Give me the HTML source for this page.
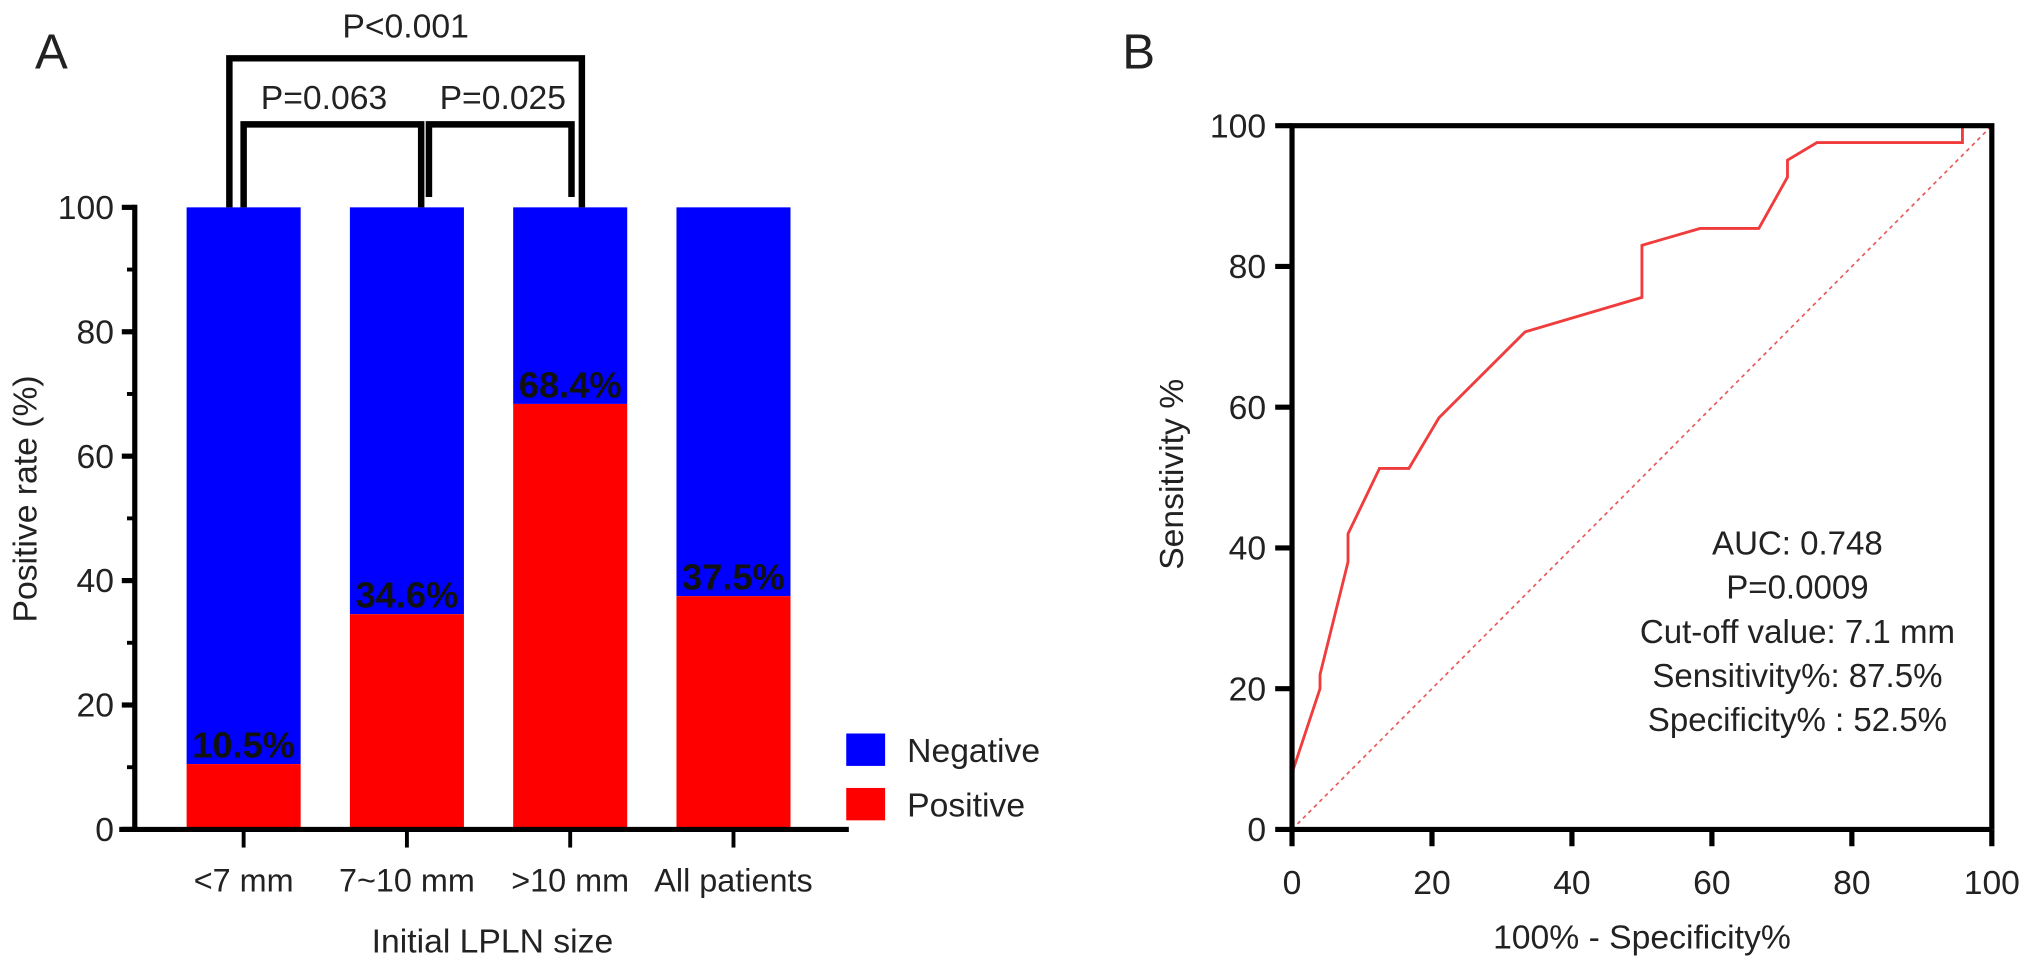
<!DOCTYPE html>
<html><head><meta charset="utf-8"><style>
body{margin:0;background:#fff;}
svg text{font-family:"Liberation Sans",Arial,sans-serif;fill:#222;}
</style></head><body>
<svg width="2032" height="966" viewBox="0 0 1568 745.4" preserveAspectRatio="none" xmlns="http://www.w3.org/2000/svg">
<g id="panelA"></g>
<g id="panelB"></g>
</svg>
<script>
const NS='http://www.w3.org/2000/svg';
const categories=['<7 mm','7~10 mm','>10 mm','All patients'];
const positiveRates=[10.5,34.6,68.4,37.5];
const yTicksA=[0,20,40,60,80,100];
const rocFpr=[0,0,4,4,8,8,12.5,16.7,21,33.3,50,50,58.3,66.7,70.8,70.8,75,95.8,95.8,100];
const rocTpr=[0,8,20,22,38,42,51.3,51.3,58.5,70.7,75.6,83,85.4,85.4,92.7,95.1,97.6,97.6,100,100];
const ticksB=[0,20,40,60,80,100];

function mk(parent,tag,attrs,text){const e=document.createElementNS(NS,tag);for(const k in attrs)e.setAttribute(k,attrs[k]);if(text!==undefined)e.textContent=text;parent.appendChild(e);return e;}

// Panel A
const A=document.getElementById('panelA');
const yA=v=>640-v*4.8;
const barLeft=[144,270,396,522];const barW=88;
mk(A,'text',{x:27,y:53,'font-size':38}, 'A');
categories.forEach((c,i)=>{
  const x=barLeft[i];
  let r=mk(A,'rect',{x:x,y:yA(100),width:barW,height:yA(positiveRates[i])-yA(100),fill:'#0000ff'});
  
  
  r=mk(A,'rect',{x:x,y:yA(positiveRates[i]),width:barW,height:640-yA(positiveRates[i]),fill:'#ff0000'});
  
  
  let t=mk(A,'text',{x:x+barW/2,y:yA(positiveRates[i])-5,'font-size':28,'font-weight':'bold','text-anchor':'middle',style:'fill:#111'},positiveRates[i].toFixed(1)+'%');
  
  
  mk(A,'line',{x1:x+barW/2,y1:640,x2:x+barW/2,y2:654,stroke:'#000','stroke-width':3});
  t=mk(A,'text',{x:x+barW/2,y:688,'font-size':25,'text-anchor':'middle'},c);
  
  
});
mk(A,'line',{x1:104,y1:158,x2:104,y2:642,stroke:'#000','stroke-width':4});
mk(A,'line',{x1:92,y1:640,x2:655,y2:640,stroke:'#000','stroke-width':4});
yTicksA.forEach(v=>{
  mk(A,'line',{x1:94,y1:yA(v),x2:104,y2:yA(v),stroke:'#000','stroke-width':4});
  if(v<100)mk(A,'line',{x1:98,y1:yA(v+10),x2:104,y2:yA(v+10),stroke:'#000','stroke-width':3});
  const t=mk(A,'text',{x:88,y:yA(v)+9,'font-size':26,'text-anchor':'end'},v);
  
  
});
mk(A,'text',{x:0,y:0,'font-size':26,'text-anchor':'middle',transform:'translate(28,385) rotate(-90)',},'Positive rate (%)');
mk(A,'text',{x:380,y:735,'font-size':26,'text-anchor':'middle',},'Initial LPLN size');
// brackets
mk(A,'path',{d:'M177 160 V45 H449 V160',fill:'none',stroke:'#000','stroke-width':5,});
mk(A,'path',{d:'M188 160 V96 H325 V160',fill:'none',stroke:'#000','stroke-width':5,});
mk(A,'path',{d:'M331 152 V96 H441 V152',fill:'none',stroke:'#000','stroke-width':5,});
mk(A,'text',{x:313,y:29,'font-size':26,'text-anchor':'middle'},'P<0.001');
mk(A,'text',{x:250,y:84,'font-size':26,'text-anchor':'middle'},'P=0.063');
mk(A,'text',{x:388,y:84,'font-size':26,'text-anchor':'middle'},'P=0.025');
// legend
mk(A,'rect',{x:653,y:566,width:30,height:25,fill:'#0000ff',});
mk(A,'text',{x:700,y:588,'font-size':26},'Negative');
mk(A,'rect',{x:653,y:608,width:30,height:25,fill:'#ff0000',});
mk(A,'text',{x:700,y:630,'font-size':26},'Positive');

// Panel B
const B=document.getElementById('panelB');
const xB=v=>997+v*5.4, yB=v=>640-v*5.43;
mk(B,'text',{x:866,y:53,'font-size':38},'B');
mk(B,'line',{x1:xB(0),y1:yB(0),x2:xB(100),y2:yB(100),stroke:'#e85a5a','stroke-width':1.3,'stroke-dasharray':'3,3',});
const pts=rocFpr.map((f,i)=>xB(f)+','+yB(rocTpr[i])).join(' ');
const roc=mk(B,'polyline',{points:pts,fill:'none',stroke:'#f03c3c','stroke-width':2.2});


mk(B,'path',{d:`M${xB(0)} ${yB(0)+2} V${yB(100)} H${xB(100)} V${yB(0)}`,fill:'none',stroke:'#000','stroke-width':4,});
mk(B,'line',{x1:xB(0),y1:yB(0),x2:xB(100),y2:yB(0),stroke:'#000','stroke-width':4});
ticksB.forEach(v=>{
  mk(B,'line',{x1:xB(0)-13,y1:yB(v),x2:xB(0),y2:yB(v),stroke:'#000','stroke-width':4});
  let t=mk(B,'text',{x:xB(0)-20,y:yB(v)+9,'font-size':26,'text-anchor':'end'},v);
  
  
  mk(B,'line',{x1:xB(v),y1:yB(0),x2:xB(v),y2:yB(0)+13,stroke:'#000','stroke-width':4});
  t=mk(B,'text',{x:xB(v),y:yB(0)+50,'font-size':26,'text-anchor':'middle'},v);
  
  
});
mk(B,'text',{x:0,y:0,'font-size':26,'text-anchor':'middle',transform:'translate(913,366) rotate(-90)',},'Sensitivity %');
mk(B,'text',{x:1267,y:732,'font-size':26,'text-anchor':'middle',},'100% - Specificity%');
const ann=['AUC: 0.748','P=0.0009','Cut-off value: 7.1 mm','Sensitivity%: 87.5%','Specificity% : 52.5%'];
ann.forEach((s,i)=>{const t=mk(B,'text',{x:1387,y:428+i*34,'font-size':25.5,'text-anchor':'middle'},s);
  
  });
</script>
</body></html>
